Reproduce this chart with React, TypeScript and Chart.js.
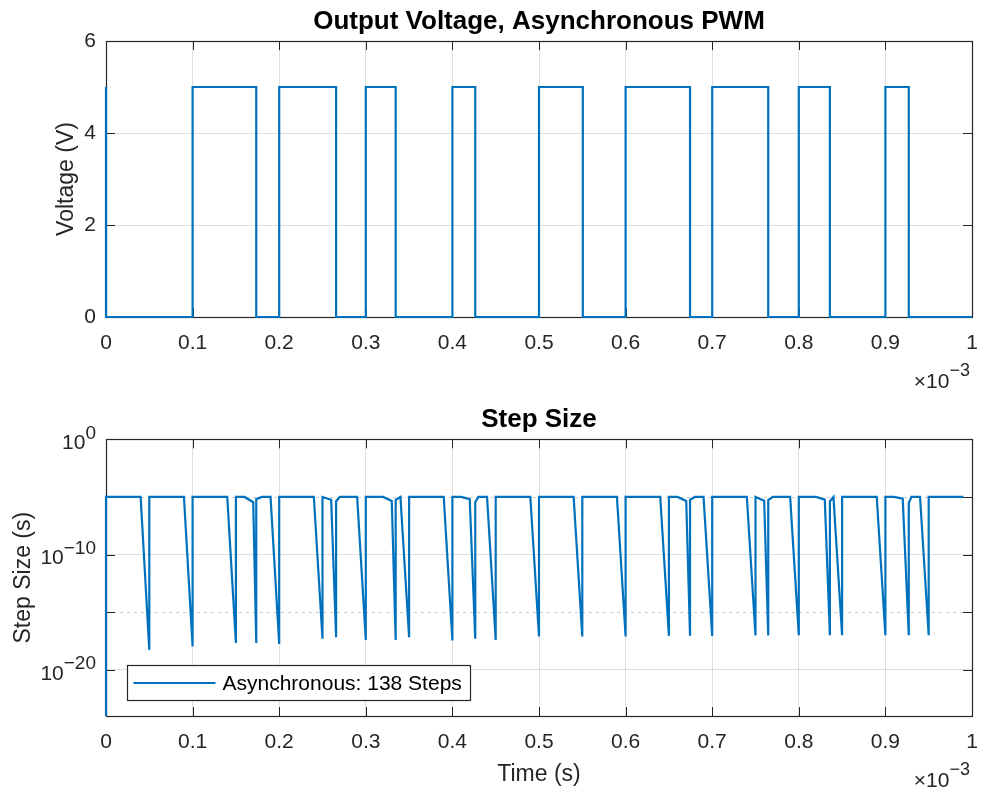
import React, { useEffect, useRef } from 'react';
import { Chart, registerables } from 'chart.js';

Chart.register(...registerables);

const FONT = '"Liberation Sans", Arial, Helvetica, sans-serif';
const TEXT = '#262626';
const BLUE = '#0072BD';
const GRID = 'rgba(38,38,38,0.15)';
const MINUS = '\u2212';

// ---------- data (time axis in units of 1e-3 s) ----------
const timeTicks = [0, 0.1, 0.2, 0.3, 0.4, 0.5, 0.6, 0.7, 0.8, 0.9, 1];
const voltageTicks = [0, 2, 4, 6];

// PWM output: initial level, then switching instants and the level after each switch
const voltageStartLevel = 5;
const switchTimes = [0, 0.1, 0.1735, 0.2, 0.2657, 0.3, 0.3345, 0.4, 0.4264, 0.5, 0.5506, 0.6, 0.6744, 0.7, 0.7647, 0.8, 0.8359, 0.9, 0.927];
const switchLevels = [0, 5, 0, 5, 0, 5, 0, 5, 0, 5, 0, 5, 0, 5, 0, 5, 0, 5, 0];
const simEndTime = 1;

// Step size vertices [time, step size (s)]
const stepSeries: [number, number][] = [
  [0, 1e-30], [0, 1e-5],
  [0.04, 1e-5], [0.05, 5.5e-19], [0.05, 1e-5],
  [0.09, 1e-5], [0.1, 1.1e-18], [0.1, 1e-5],
  [0.14, 1e-5], [0.15, 2.2e-18], [0.15, 1e-5],
  [0.16, 1e-5], [0.17, 3.5e-6], [0.1735, 2.2e-18], [0.1735, 6.5e-6], [0.18, 1e-5],
  [0.19, 1e-5], [0.2, 1.8e-18], [0.2, 1e-5],
  [0.24, 1e-5], [0.25, 5e-18], [0.25, 1e-5],
  [0.26, 5.7e-6], [0.2657, 6.8e-18], [0.2657, 4.3e-6], [0.27, 1e-5],
  [0.29, 1e-5], [0.3, 4e-18], [0.3, 1e-5],
  [0.32, 1e-5], [0.33, 4.5e-6], [0.3345, 4e-18], [0.3345, 5.5e-6], [0.34, 1e-5],
  [0.35, 6.8e-18], [0.35, 1e-5],
  [0.39, 1e-5], [0.4, 3.5e-18], [0.4, 1e-5],
  [0.41, 1e-5], [0.42, 6.4e-6], [0.4264, 5e-18], [0.4264, 3.6e-6], [0.43, 1e-5],
  [0.44, 1e-5], [0.45, 4e-18], [0.45, 1e-5],
  [0.49, 1e-5], [0.5, 8e-18], [0.5, 1e-5],
  [0.54, 1e-5], [0.55, 8e-18], [0.55, 1e-5],
  [0.59, 1e-5], [0.6, 8e-18], [0.6, 1e-5],
  [0.64, 1e-5], [0.65, 9e-18], [0.65, 1e-5],
  [0.66, 1e-5], [0.67, 4.4e-6], [0.6744, 9e-18], [0.6744, 5.6e-6], [0.68, 1e-5],
  [0.69, 1e-5], [0.7, 9e-18], [0.7, 1e-5],
  [0.74, 1e-5], [0.75, 9.5e-18], [0.75, 1e-5],
  [0.76, 4.7e-6], [0.7647, 9.5e-18], [0.7647, 5.3e-6], [0.77, 1e-5],
  [0.79, 1e-5], [0.8, 1e-17], [0.8, 1e-5],
  [0.82, 1e-5], [0.83, 5.9e-6], [0.8359, 1e-17], [0.8359, 4.1e-6], [0.84, 1e-5],
  [0.85, 1e-17], [0.85, 1e-5],
  [0.89, 1e-5], [0.9, 1e-17], [0.9, 1e-5],
  [0.91, 1e-5], [0.92, 7e-6], [0.927, 1e-17], [0.927, 3e-6], [0.93, 1e-5],
  [0.94, 1e-5], [0.95, 1e-17], [0.95, 1e-5],
  [0.99, 1e-5],
];
const stepMajorExps = [0, -10, -20];
const stepMinorExps = [-5, -15];
const stepAxisMin = 1e-24;
const stepAxisMax = 1;
const legendLabel = 'Asynchronous: 138 Steps';

// ---------- helpers ----------
type FrameCfg = {
  xTicks: number[];
  yTicks: number[];
  yMinor?: number[];
  logExps?: number[];
  legend?: boolean;
};

function expText(e: number) {
  return e < 0 ? MINUS + String(-e) : String(e);
}

function drawSup(ctx: CanvasRenderingContext2D, right: number, cy: number, base: string, sup: string, baseSize: number, supSize: number, supRaise: number, baseDrop: number) {
  ctx.textAlign = 'right';
  ctx.textBaseline = 'middle';
  ctx.font = `${supSize}px ${FONT}`;
  const sw = ctx.measureText(sup).width;
  ctx.fillText(sup, right, cy - supRaise);
  ctx.font = `${baseSize}px ${FONT}`;
  ctx.fillText(base, right - sw, cy + baseDrop);
}

function framePlugin(cfg: FrameCfg) {
  return {
    id: 'frame',
    beforeDatasetsDraw(chart: any) {
      const { ctx, chartArea: a, scales } = chart;
      const xs = scales.x;
      const ys = scales.y;
      ctx.save();
      if (cfg.yMinor) {
        ctx.strokeStyle = 'rgba(38,38,38,0.25)';
        ctx.lineWidth = 1;
        ctx.setLineDash([3, 4]);
        for (const v of cfg.yMinor) {
          const y = Math.round(ys.getPixelForValue(v)) + 0.5;
          ctx.beginPath();
          ctx.moveTo(a.left, y);
          ctx.lineTo(a.right, y);
          ctx.stroke();
        }
        ctx.setLineDash([]);
      }
      ctx.strokeStyle = TEXT;
      ctx.lineWidth = 1;
      const TL = 9;
      ctx.beginPath();
      for (const v of cfg.xTicks) {
        const x = Math.round(xs.getPixelForValue(v)) + 0.5;
        ctx.moveTo(x, a.bottom);
        ctx.lineTo(x, a.bottom - TL);
        ctx.moveTo(x, a.top);
        ctx.lineTo(x, a.top + TL);
      }
      for (const v of [...cfg.yTicks, ...(cfg.yMinor || [])]) {
        const y = Math.round(ys.getPixelForValue(v)) + 0.5;
        ctx.moveTo(a.left, y);
        ctx.lineTo(a.left + TL, y);
        ctx.moveTo(a.right, y);
        ctx.lineTo(a.right - TL, y);
      }
      ctx.stroke();
      ctx.lineWidth = 1.2;
      ctx.strokeRect(Math.round(a.left) + 0.5, Math.round(a.top) + 0.5, Math.round(a.right - a.left), Math.round(a.bottom - a.top));
      ctx.restore();
    },
    afterDatasetsDraw(chart: any) {
      if (!cfg.legend) return;
      const { ctx, chartArea: a } = chart;
      const ds = chart.data.datasets[0];
      ctx.save();
      ctx.font = `21px ${FONT}`;
      const tw = ctx.measureText(ds.label).width;
      const left = Math.round(a.left + 21) + 0.5;
      const h = 35;
      const top = Math.round(a.bottom - 16 - h) + 0.5;
      const w = Math.round(95 + tw + 9);
      ctx.fillStyle = '#fff';
      ctx.fillRect(left, top, w, h);
      ctx.strokeStyle = TEXT;
      ctx.lineWidth = 1.2;
      ctx.strokeRect(left, top, w, h);
      ctx.strokeStyle = ds.borderColor;
      ctx.lineWidth = 2;
      ctx.beginPath();
      ctx.moveTo(left + 6, top + h / 2);
      ctx.lineTo(left + 88, top + h / 2);
      ctx.stroke();
      ctx.fillStyle = '#000';
      ctx.textAlign = 'left';
      ctx.textBaseline = 'middle';
      ctx.fillText(ds.label, left + 95, top + h / 2 + 1);
      ctx.restore();
    },
    afterDraw(chart: any) {
      const { ctx, chartArea: a, scales } = chart;
      ctx.save();
      ctx.fillStyle = TEXT;
      // x10^-3 multiplier
      drawSup(ctx, a.right - 2, a.bottom + 61, '\u00d710', expText(-3), 21, 18, 7, 4);
      if (cfg.logExps) {
        const ys = scales.y;
        for (const e of cfg.logExps) {
          const py = ys.getPixelForValue(Math.pow(10, e));
          drawSup(ctx, a.left - 10, py, '10', expText(e), 21, 19, 6, 4);
        }
      }
      ctx.restore();
    },
  };
}

function useChart(ref: React.RefObject<HTMLCanvasElement>, build: () => any) {
  useEffect(() => {
    if (!ref.current) return;
    const chart = new Chart(ref.current, build());
    return () => chart.destroy();
  }, []);
}

const tickFont = { family: FONT, size: 21 };
const xFit = (h: number) => (s: any) => {
  s.height = h;
  s.paddingLeft = 0;
  s.paddingRight = 0;
};
const yFit = (s: any) => {
  s.width = 106;
  s.paddingTop = 0;
  s.paddingBottom = 0;
};

function VoltageChart() {
  const ref = useRef<HTMLCanvasElement>(null);
  useChart(ref, () => {
    const pts: { x: number; y: number }[] = [{ x: 0, y: voltageStartLevel }];
    let prev = voltageStartLevel;
    switchTimes.forEach((t, i) => {
      pts.push({ x: t, y: prev });
      pts.push({ x: t, y: switchLevels[i] });
      prev = switchLevels[i];
    });
    pts.push({ x: simEndTime, y: prev });
    return {
      type: 'line',
      data: {
        datasets: [
          {
            label: 'Output Voltage',
            data: pts,
            borderColor: BLUE,
            borderWidth: 2.2,
            pointRadius: 0,
            tension: 0,
            fill: false,
            clip: 4,
          },
        ],
      },
      options: {
        animation: false,
        responsive: false,
        layout: { padding: { left: 0, right: 9, top: 0, bottom: 0 } },
        plugins: {
          legend: { display: false },
          tooltip: { enabled: false },
          title: {
            display: true,
            fullSize: false,
            text: 'Output Voltage, Asynchronous PWM',
            color: '#000',
            font: { family: FONT, size: 26, weight: 'bold' },
            padding: { top: 6, bottom: 3.8 },
          },
        },
        scales: {
          x: {
            type: 'linear',
            min: 0,
            max: 1,
            afterBuildTicks: (s: any) => { s.ticks = timeTicks.map((v) => ({ value: v })); },
            afterFit: xFit(83),
            ticks: { font: tickFont, color: TEXT, padding: 14, maxRotation: 0, autoSkip: false, callback: (v: any) => String(Number(Number(v).toFixed(2))) },
            grid: { color: GRID, drawTicks: false },
            border: { display: false },
          },
          y: {
            type: 'linear',
            min: 0,
            max: 6,
            afterBuildTicks: (s: any) => { s.ticks = voltageTicks.map((v) => ({ value: v })); },
            afterFit: yFit,
            ticks: { font: tickFont, color: TEXT, padding: 10 },
            grid: { color: GRID, drawTicks: false },
            border: { display: false },
            title: {
              display: true,
              text: 'Voltage (V)',
              color: TEXT,
              font: { family: FONT, size: 23 },
              padding: { top: 52.7, bottom: 0 },
            },
          },
        },
      },
      plugins: [framePlugin({ xTicks: timeTicks, yTicks: voltageTicks })],
    };
  });
  return <canvas ref={ref} width={981} height={400} style={{ position: 'absolute', left: 0, top: 0, width: 981, height: 400 }} />;
}

function StepChart() {
  const ref = useRef<HTMLCanvasElement>(null);
  useChart(ref, () => {
    const pts = stepSeries.map(([t, h]) => ({ x: t, y: h }));
    const major = stepMajorExps.map((e) => Math.pow(10, e));
    const minor = stepMinorExps.map((e) => Math.pow(10, e));
    return {
      type: 'line',
      data: {
        datasets: [
          {
            label: legendLabel,
            data: pts,
            borderColor: BLUE,
            borderWidth: 2.2,
            pointRadius: 0,
            tension: 0,
            fill: false,
            clip: { left: 4, top: 4, right: 4, bottom: 0 },
          },
        ],
      },
      options: {
        animation: false,
        responsive: false,
        layout: { padding: { left: 0, right: 9, top: 0, bottom: 0 } },
        plugins: {
          legend: { display: false },
          tooltip: { enabled: false },
          title: {
            display: true,
            fullSize: false,
            text: 'Step Size',
            color: '#000',
            font: { family: FONT, size: 26, weight: 'bold' },
            padding: { top: 4.5, bottom: 3.6 },
          },
        },
        scales: {
          x: {
            type: 'linear',
            min: 0,
            max: 1,
            afterBuildTicks: (s: any) => { s.ticks = timeTicks.map((v) => ({ value: v })); },
            afterFit: xFit(79),
            ticks: { font: tickFont, color: TEXT, padding: 14, maxRotation: 0, autoSkip: false, callback: (v: any) => String(Number(Number(v).toFixed(2))) },
            grid: { color: GRID, drawTicks: false },
            border: { display: false },
            title: {
              display: true,
              text: 'Time (s)',
              color: TEXT,
              font: { family: FONT, size: 23 },
              padding: { top: 0, bottom: 6.2 },
            },
          },
          y: {
            type: 'logarithmic',
            min: stepAxisMin,
            max: stepAxisMax,
            afterBuildTicks: (s: any) => { s.ticks = major.map((v) => ({ value: v })); },
            afterFit: yFit,
            ticks: { display: false },
            grid: { color: GRID, drawTicks: false },
            border: { display: false },
            title: {
              display: true,
              text: 'Step Size (s)',
              color: TEXT,
              font: { family: FONT, size: 23 },
              padding: { top: 10.2, bottom: 0 },
            },
          },
        },
      },
      plugins: [framePlugin({ xTicks: timeTicks, yTicks: major, yMinor: minor, logExps: stepMajorExps, legend: true })],
    };
  });
  return <canvas ref={ref} width={981} height={395} style={{ position: 'absolute', left: 0, top: 400, width: 981, height: 395 }} />;
}

export default function App() {
  return (
    <div style={{ position: 'absolute', left: 0, top: 0, width: 981, height: 795, background: '#fff', overflow: 'hidden' }}>
      <VoltageChart />
      <StepChart />
    </div>
  );
}
